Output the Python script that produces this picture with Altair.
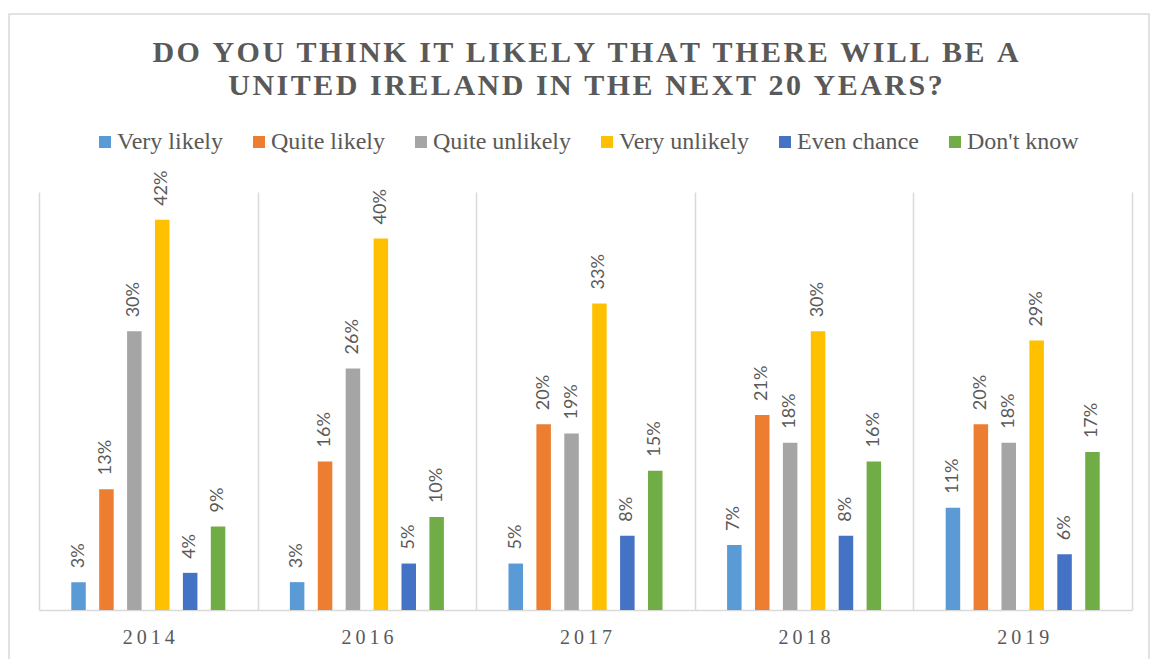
import altair as alt
import pandas as pd

years = ["2014", "2016", "2017", "2018", "2019"]
categories = ["Very likely", "Quite likely", "Quite unlikely", "Very unlikely", "Even chance", "Don't know"]
colors = ["#5B9BD5", "#ED7D31", "#A5A5A5", "#FFC000", "#4472C4", "#70AD47"]

very_likely = [3, 3, 5, 7, 11]
quite_likely = [13, 16, 20, 21, 20]
quite_unlikely = [30, 26, 19, 18, 18]
very_unlikely = [42, 40, 33, 30, 29]
even_chance = [4, 5, 8, 8, 6]
dont_know = [9, 10, 15, 16, 17]

title_lines = ["DO YOU THINK IT LIKELY THAT THERE WILL BE A",
               "UNITED IRELAND IN THE NEXT 20 YEARS?"]

series = [very_likely, quite_likely, quite_unlikely, very_unlikely, even_chance, dont_know]
rows = []
for cat, vals in zip(categories, series):
    for yr, v in zip(years, vals):
        rows.append({"year": yr, "category": cat, "value": v})
df = pd.DataFrame(rows)

HS = "\u200a"
spaced_title = [HS.join(list(t)) for t in title_lines]

GRID = "#d9d9d9"
TXT = "#595959"

x_enc = alt.X("year:N", sort=years, title=None,
              scale=alt.Scale(paddingInner=0, paddingOuter=0),
              axis=alt.Axis(tickBand="extent", grid=True, gridColor=GRID, gridWidth=1.5,
                            domainColor=GRID, domainWidth=1.5, ticks=False, labelAngle=0,
                            labelFont="Liberation Serif", labelFontSize=20, labelColor=TXT,
                            labelPadding=17,
                            labelExpr="join(split(datum.label, ''), '\u2009')"))
# blank slots at both ends of each group give the wide outer margin
offset_domain = ["_l"] + categories + ["_r"]
xo_enc = alt.XOffset("category:N",
                     scale=alt.Scale(domain=offset_domain, paddingInner=0.48, paddingOuter=0.157))
y_enc = alt.Y("value:Q", scale=alt.Scale(domain=[0, 45], nice=False), axis=None)

bars = alt.Chart(df).mark_bar().encode(
    x=x_enc, xOffset=xo_enc, y=y_enc,
    color=alt.Color("category:N", sort=categories,
                    scale=alt.Scale(domain=categories, range=colors),
                    legend=alt.Legend(title=None, orient="none", legendX=54, legendY=-62,
                                      direction="horizontal", symbolType="square",
                                      symbolSize=144, symbolStrokeWidth=0,
                                      labelFont="Liberation Serif", labelFontSize=24,
                                      labelColor=TXT, columnPadding=24, labelOffset=0,
                                      padding=0)),
)

labels = alt.Chart(df).transform_calculate(
    lbl="datum.value + '%'"
).mark_text(angle=270, align="left", baseline="middle", dx=14,
            font="Lato", fontSize=18, color=TXT).encode(
    x=x_enc, xOffset=xo_enc, y=y_enc, text="lbl:N"
)

border = alt.Chart(pd.DataFrame({"k": [0]})).mark_rect(
    fillOpacity=0, stroke=GRID, strokeWidth=1.5
).encode(x=alt.value(-30), x2=alt.value(1110), y=alt.value(-178), y2=alt.value(480))

chart = alt.layer(border, bars, labels).properties(
    width=1093, height=418,
    background="white",
    title=alt.Title(text=spaced_title, font="Liberation Serif", fontSize=30,
                    fontWeight="bold", color=TXT, anchor="middle", offset=-88,
                    lineHeight=33),
    autosize=alt.AutoSizeParams(type="none"),
    padding={"left": 39, "top": 192, "right": 19, "bottom": 49},
).configure_view(stroke=None)

chart.save("out.html", embed_options={"renderer": "svg", "actions": False})
